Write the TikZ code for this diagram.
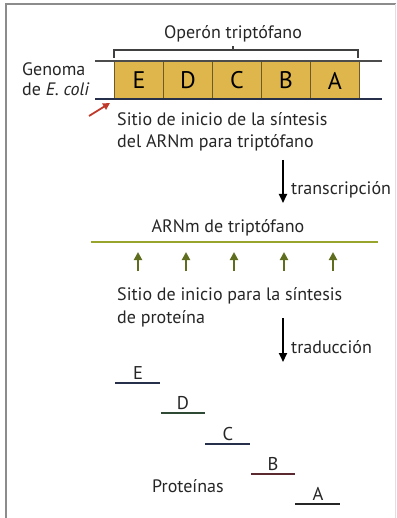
\documentclass[tikz,border=0pt]{standalone}
\usepackage{fontspec}
\setmainfont{PT Sans}
\usetikzlibrary{arrows.meta}
\definecolor{gold}{HTML}{DFB64C}
\definecolor{goldedge}{HTML}{6E5A28}
\definecolor{olive}{HTML}{98A52C}
\definecolor{darkolive}{HTML}{5E6E1E}
\definecolor{redarrow}{HTML}{C0392B}
\definecolor{navy}{HTML}{26304A}
\definecolor{maroon}{HTML}{5A2A30}
\definecolor{dgreen}{HTML}{2F4A34}
\begin{document}
\begin{tikzpicture}[x=1pt,y=-1pt,
  txt/.style={font=\fontsize{18}{21}\selectfont, inner sep=0pt, anchor=base west, text=black!85},
  gene/.style={draw=goldedge, line width=1pt, fill=gold, minimum width=49pt, minimum height=38pt, inner sep=0pt, anchor=north west, font=\fontsize{24}{26}\selectfont},
  prot/.style={line width=2.6pt},
  plet/.style={font=\fontsize{18.5}{20}\selectfont, inner sep=0pt, anchor=base, text=black!85},
  flow/.style={line width=2pt, -{Triangle[length=9pt,width=8pt]}},
  site/.style={darkolive, line width=2pt, -{Triangle[length=8pt,width=8pt]}}]
\useasboundingbox (0,0) rectangle (396,518);
% frame
\draw[black!45, line width=1.5pt] (6,518) -- (6,4) -- (396,4);
\draw[black!12, line width=0.8pt] (395,4) -- (395,518);
% operon label and bracket
\node[txt, anchor=base] (op) at (233,39) {Operón triptófano};
\draw[black!75, line width=1.2pt] (114,58) -- (114,50) -- (358,50) -- (358,58);
\draw[black!75, line width=1.2pt] (233,50) -- (233,46);
% genome
\node[gene] (gE) at (114,61) {E};
\node[gene] (gD) at (163,61) {D};
\node[gene] (gC) at (212,61) {C};
\node[gene] (gB) at (261,61) {B};
\node[gene] (gA) at (310,61) {A};
\draw[black!70, line width=1.5pt] (95,61) -- (382,61);
\draw[navy, line width=1.5pt] (95,99) -- (382,99);
\node[txt] (gen1) at (22,76) {Genoma};
\node[txt] (gen2) at (22,96) {de \textit{E. coli}};
% start site arrow
\coordinate (ra0) at (89,116);
\coordinate (ra1) at (110,103);
\draw[redarrow, line width=1.8pt, -{Triangle[length=7pt,width=7pt]}] (ra0) -- (ra1);
\node[txt] (s1) at (117,125.5) {Sitio de inicio de la síntesis};
\node[txt] (s2) at (117,147.5) {del ARNm para triptófano};
% transcription
\coordinate (t0) at (283,160);
\coordinate (t1) at (283,203);
\draw[flow] (t0) -- (t1);
\node[txt] (tr) at (291,195) {transcripción};
% mRNA
\node[txt, anchor=base] (mr) at (228,233) {ARNm de triptófano};
\coordinate (m0) at (91,242);
\coordinate (m1) at (378,242);
\draw[olive, line width=2.8pt] (m0) -- (m1);
\foreach \x/\n in {138/a,186/b,234/c,284/d,333/e} {
  \coordinate (sb\n) at (\x,271);
  \coordinate (st\n) at (\x,252);
  \draw[site] (sb\n) -- (st\n);
}
\node[txt] (p1) at (117,300.5) {Sitio de inicio para la síntesis};
\node[txt] (p2) at (117,323.5) {de proteína};
% translation
\coordinate (u0) at (283,318);
\coordinate (u1) at (283,362);
\draw[flow] (u0) -- (u1);
\node[txt] (tl) at (291,353) {traducción};
% proteins
\node[plet] (pE) at (138,379) {E};
\draw[prot, navy] (115,383) -- (160,383);
\node[plet] (pD) at (183,409) {D};
\draw[prot, dgreen] (161,413) -- (205,413);
\node[plet] (pC) at (228,440) {C};
\draw[prot, navy] (205,444) -- (250,444);
\node[plet] (pB) at (273,470) {B};
\draw[prot, maroon] (251,474) -- (295,474);
\node[plet] (pA) at (318,500) {A};
\draw[prot, black!85] (295,504) -- (340,504);
\node[txt] (pr) at (152,492) {Proteínas};
\end{tikzpicture}
\end{document}
